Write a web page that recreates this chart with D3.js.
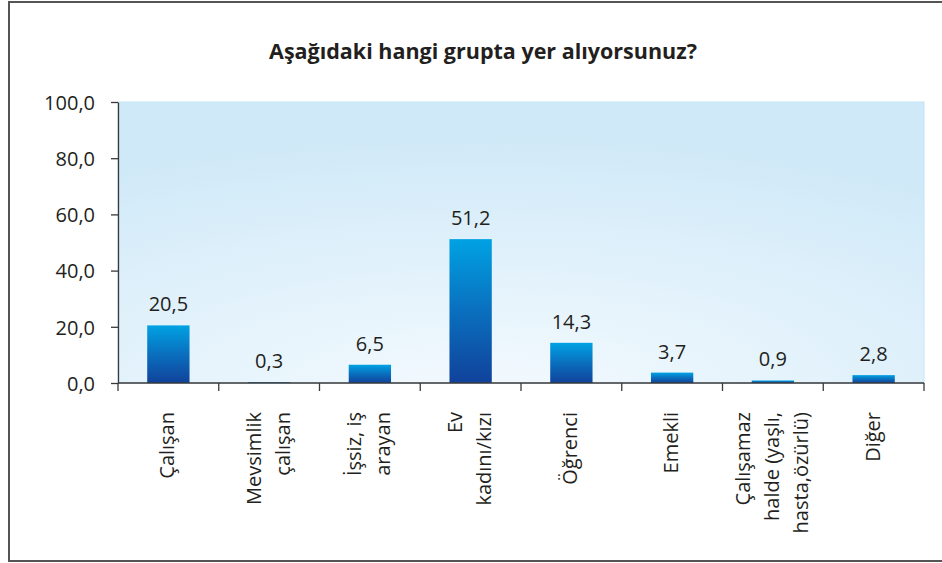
<!DOCTYPE html>
<meta charset="utf-8">
<style>
body { margin: 0; background: #fff; font-family: 'Open Sans', sans-serif; }
.tick text { font-family: 'Open Sans', sans-serif; fill: #231f20; }
</style>
<body>
<svg id="chart" width="942" height="563"></svg>
<script src="https://d3js.org/d3.v7.min.js"></script>
<script>

// chart data
var categories = [
  ["Çalışan"],
  ["Mevsimlik", "çalışan"],
  ["İşsiz, iş", "arayan"],
  ["Ev", "kadını/kızı"],
  ["Öğrenci"],
  ["Emekli"],
  ["Çalışamaz", "halde (yaşlı,", "hasta,özürlü)"],
  ["Diğer"]
];
var values = [20.5, 0.3, 6.5, 51.2, 14.3, 3.7, 0.9, 2.8];
var yTicks = [0, 20, 40, 60, 80, 100];
var title = "Aşağıdaki hangi grupta yer alıyorsunuz?";

var svg = d3.select("#chart");
var plot = { left: 118, right: 924, top: 102, bottom: 383 };

var comma = function(v) { return v.toFixed(1).replace(".", ","); };

var defs = svg.append("defs");

var bg = defs.append("radialGradient")
  .attr("id", "bg")
  .attr("cx", "45%").attr("cy", "105%").attr("r", "95%");
bg.append("stop").attr("offset", "0%").attr("stop-color", "#f4fafe");
bg.append("stop").attr("offset", "100%").attr("stop-color", "#cfe9f8");

var barGrad = defs.append("linearGradient")
  .attr("id", "bar")
  .attr("x1", 0).attr("y1", 0).attr("x2", 0).attr("y2", 1);
barGrad.append("stop").attr("offset", "0%").attr("stop-color", "#00a2e3");
barGrad.append("stop").attr("offset", "50%").attr("stop-color", "#0a6fbe");
barGrad.append("stop").attr("offset", "100%").attr("stop-color", "#10429a");

// outer frame
svg.append("rect")
  .attr("x", 9).attr("y", 2)
  .attr("width", 945).attr("height", 559)
  .attr("fill", "none")
  .attr("stroke", "#555")
  .attr("stroke-width", 2);

svg.append("text")
  .attr("x", 483)
  .attr("y", 59)
  .attr("text-anchor", "middle")
  .style("font-size", "21.5px")
  .style("font-weight", "bold")
  .style("fill", "#231f20")
  .text(title);

var x = d3.scaleBand()
  .domain(d3.range(categories.length))
  .range([plot.left, plot.right])
  .paddingInner(0.58)
  .paddingOuter(0.29);

var xAxisScale = d3.scaleBand()
  .domain(d3.range(categories.length))
  .range([plot.left, plot.right]);

var y = d3.scaleLinear()
  .domain([0, 100])
  .range([plot.bottom, plot.top]);

// plot background
svg.append("rect")
  .attr("x", plot.left).attr("y", plot.top)
  .attr("width", plot.right - plot.left)
  .attr("height", plot.bottom - plot.top)
  .attr("fill", "url(#bg)")
  .attr("stroke", "#c6e5f6")
  .attr("stroke-width", 1);

// bars
svg.selectAll(".bar")
  .data(values)
  .enter().append("rect")
    .attr("class", "bar")
    .attr("x", function(d, i) { return x(i); })
    .attr("y", function(d) { return y(d); })
    .attr("width", x.bandwidth())
    .attr("height", function(d) { return y(0) - y(d); })
    .attr("fill", "url(#bar)");

// value labels
svg.selectAll(".val")
  .data(values)
  .enter().append("text")
    .attr("class", "val")
    .attr("x", function(d, i) { return x(i) + x.bandwidth() / 2; })
    .attr("y", function(d) { return y(d) - 14; })
    .attr("text-anchor", "middle")
    .style("font-size", "20px")
    .style("fill", "#231f20")
    .text(function(d) { return comma(d); });

// y axis
var yAxis = svg.append("g")
  .attr("transform", "translate(" + plot.left + ",0)")
  .call(d3.axisLeft(y).tickValues(yTicks).tickFormat(comma).tickSize(7).tickPadding(16).tickSizeOuter(0));
yAxis.selectAll("text").style("font-size", "20px").attr("dy", "0.36em");
yAxis.selectAll("path, line").attr("stroke", "#3a3a3a").attr("stroke-width", 1.3);

// x axis: line + ticks at band edges
var xg = svg.append("g");
xg.append("line")
  .attr("x1", plot.left).attr("x2", plot.right)
  .attr("y1", plot.bottom).attr("y2", plot.bottom)
  .attr("stroke", "#3a3a3a").attr("stroke-width", 1.3);
xg.selectAll(".xt")
  .data(d3.range(categories.length + 1))
  .enter().append("line")
    .attr("x1", function(i) { return i < categories.length ? xAxisScale(i) : plot.right; })
    .attr("x2", function(i) { return i < categories.length ? xAxisScale(i) : plot.right; })
    .attr("y1", plot.bottom).attr("y2", plot.bottom + 8)
    .attr("stroke", "#3a3a3a").attr("stroke-width", 1.3);

// rotated category labels
var lineH = 29;
categories.forEach(function(lines, i) {
  var cx = xAxisScale(i) + xAxisScale.bandwidth() / 2;
  var n = lines.length;
  lines.forEach(function(line, j) {
    var bx = cx + 6 + (j - (n - 1) / 2) * lineH;
    svg.append("text")
      .attr("transform", "translate(" + bx + ",412) rotate(-90)")
      .attr("text-anchor", "end")
      .style("font-size", "20px")
      .style("fill", "#231f20")
      .text(line);
  });
});

</script>
</body>
